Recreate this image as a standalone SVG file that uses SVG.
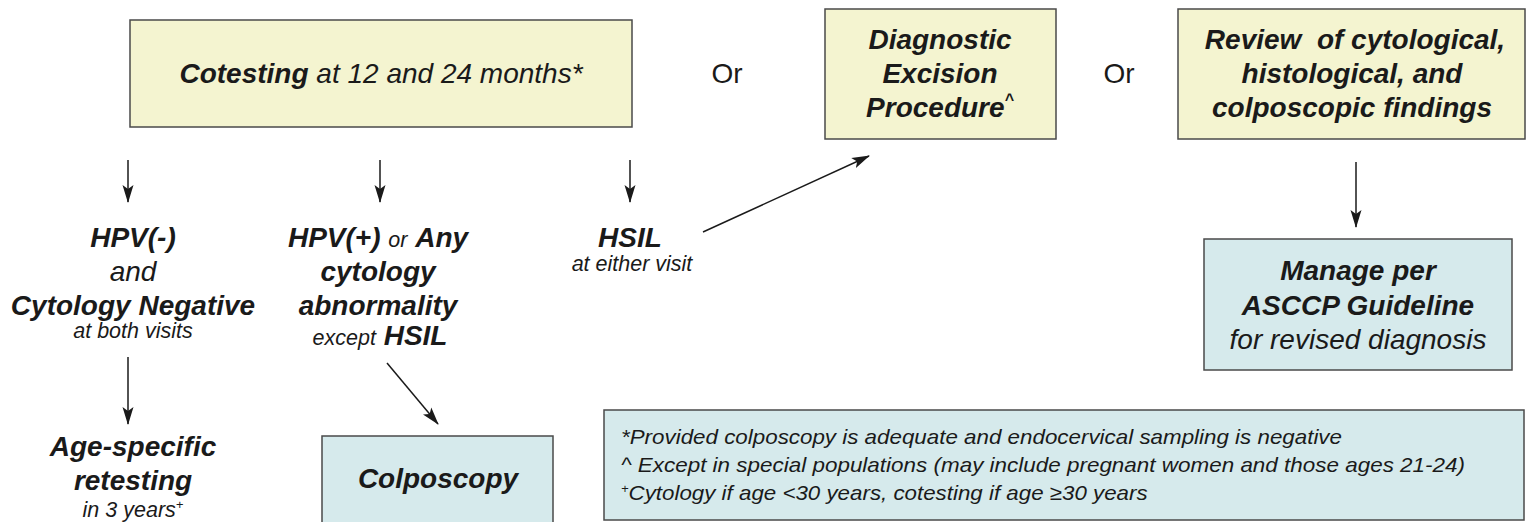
<svg xmlns="http://www.w3.org/2000/svg" width="1535" height="522" viewBox="0 0 1535 522">
  <style>
    text { font-family: "Liberation Sans Narrow", "Liberation Sans", Arial, sans-serif; font-style: italic; fill: #1a1a1a; text-anchor: middle; }
    .b { font-weight: bold; }
    .m { font-size: 28px; }
    .s { font-size: 21.5px; }
    .r { font-style: normal; font-size: 28px; }
    .f { font-size: 21px; text-anchor: start; }
    .y { fill: #f4f4d0; stroke: #4a4a4a; stroke-width: 1.5; }
    .c { fill: #d6eaec; stroke: #4a4a4a; stroke-width: 1.5; }
    .a { stroke: #1a1a1a; stroke-width: 1.5; fill: none; marker-end: url(#ah); }
  </style>
  <defs>
    <marker id="ah" markerWidth="18" markerHeight="12" refX="17" refY="6" orient="auto" markerUnits="userSpaceOnUse">
      <path d="M0,0.5 L18,6 L0,11.5 L4,6 Z" fill="#1a1a1a"/>
    </marker>
  </defs>
  <rect width="1535" height="522" fill="#ffffff"/>

  <g id="cotesting">
    <rect class="y" x="130" y="20" width="502" height="107"/>
    <text class="m" x="381" y="83"><tspan class="b">Cotesting</tspan> at 12 and 24 months*</text>
  </g>
  <text class="r" x="727" y="83">Or</text>
  <g id="excision">
    <rect class="y" x="825" y="9" width="231" height="130"/>
    <text class="m b" x="940" y="49">Diagnostic</text>
    <text class="m b" x="940" y="83">Excision</text>
    <text class="m b" x="940" y="117">Procedure<tspan font-size="16" dy="-12">^</tspan></text>
  </g>
  <text class="r" x="1119" y="83">Or</text>
  <g id="review">
    <rect class="y" x="1178" y="9" width="347" height="130"/>
    <text class="m b" x="1355" y="49" xml:space="preserve">Review  of cytological,</text>
    <text class="m b" x="1352" y="83">histological, and</text>
    <text class="m b" x="1352" y="117">colposcopic findings</text>
  </g>

  <g id="negative">
    <text class="m b" x="133" y="247">HPV(-)</text>
    <text class="m" x="133" y="281">and</text>
    <text class="m b" x="133" y="315">Cytology Negative</text>
    <text class="s" x="133" y="338">at both visits</text>
  </g>
  <g id="abnormal">
    <text class="m" x="378" y="247"><tspan class="b">HPV(+)</tspan> <tspan class="s">or</tspan> <tspan class="b">Any</tspan></text>
    <text class="m b" x="378" y="281">cytology</text>
    <text class="m b" x="378" y="315">abnormality</text>
    <text class="m" x="380" y="345"><tspan class="s">except</tspan> <tspan class="b">HSIL</tspan></text>
  </g>
  <g id="hsil">
    <text class="m b" x="630" y="247">HSIL</text>
    <text class="s" x="632" y="271">at either visit</text>
  </g>
  <g id="retesting">
    <text class="m b" x="133" y="456">Age-specific</text>
    <text class="m b" x="133" y="490">retesting</text>
    <text class="s" x="133" y="517">in 3 years<tspan font-size="13" dy="-8">+</tspan></text>
  </g>
  <g id="colposcopy">
    <rect class="c" x="322" y="436" width="231" height="92"/>
    <text class="m b" x="438" y="488">Colposcopy</text>
  </g>
  <g id="manage">
    <rect class="c" x="1204" y="239" width="308" height="131"/>
    <text class="m b" x="1358" y="280">Manage per</text>
    <text class="m b" x="1358" y="315">ASCCP Guideline</text>
    <text class="m" x="1358" y="349">for revised diagnosis</text>
  </g>
  <g id="notes">
    <rect class="c" x="604" y="410" width="920" height="110"/>
    <text class="f" x="621" y="444" textLength="721" lengthAdjust="spacingAndGlyphs">*Provided colposcopy is adequate and endocervical sampling is negative</text>
    <text class="f" x="621" y="472" textLength="844" lengthAdjust="spacingAndGlyphs">^ Except in special populations (may include pregnant women and those ages 21-24)</text>
    <text class="f" x="621" y="500"><tspan font-size="13" dy="-7">+</tspan><tspan dy="7" textLength="519" lengthAdjust="spacingAndGlyphs">Cytology if age &lt;30 years, cotesting if age ≥30 years</tspan></text>
  </g>

  <g id="connectors">
    <line class="a" x1="128" y1="160" x2="128" y2="202"/>
    <line class="a" x1="380" y1="160" x2="380" y2="202"/>
    <line class="a" x1="630" y1="160" x2="630" y2="202"/>
    <line class="a" x1="703" y1="232" x2="869" y2="156"/>
    <line class="a" x1="1356" y1="162" x2="1356" y2="227"/>
    <line class="a" x1="128" y1="357" x2="128" y2="424"/>
    <line class="a" x1="387" y1="363" x2="438" y2="424"/>
  </g>
</svg>
